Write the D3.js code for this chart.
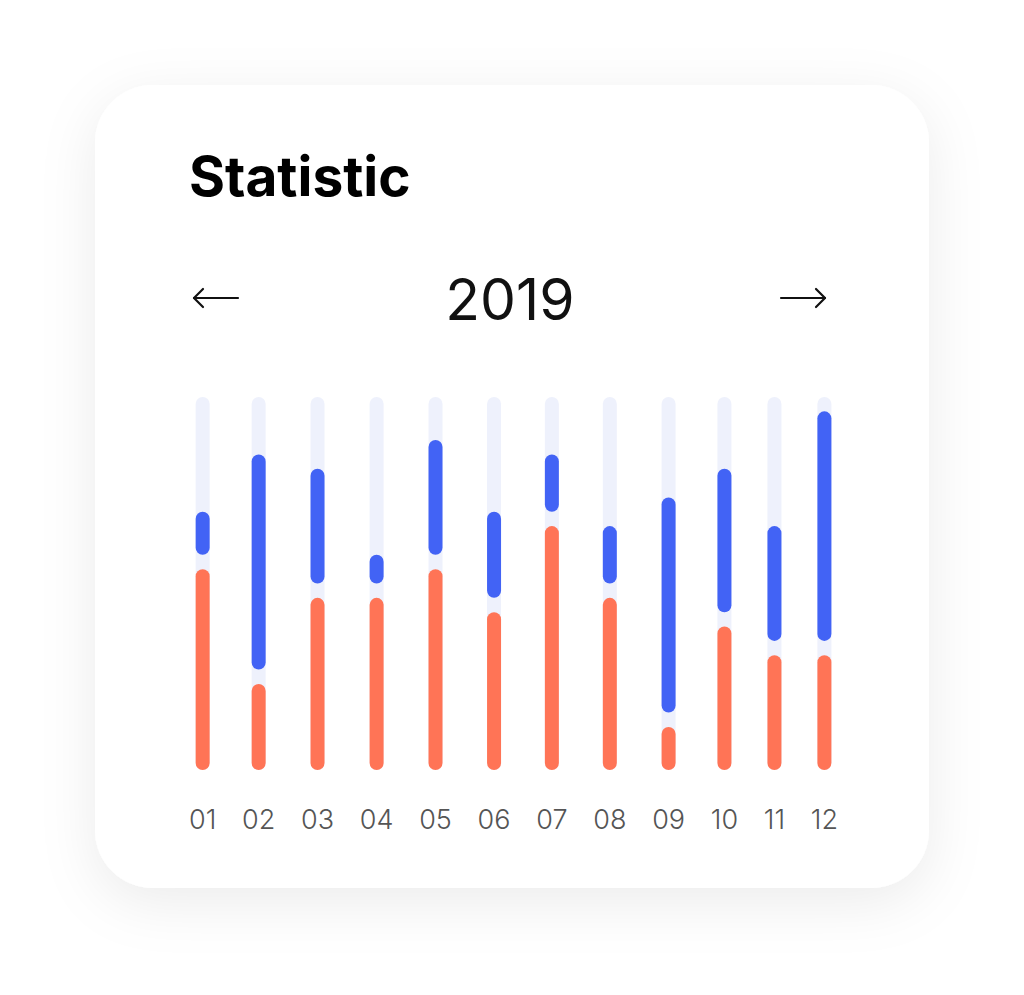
<!DOCTYPE html>
<html>
<head>
<meta charset="utf-8">
<script src="https://cdn.jsdelivr.net/npm/d3@7/dist/d3.min.js"></script>
<style>
  html, body { margin: 0; padding: 0; background: #ffffff; }
  svg { display: block; }
</style>
</head>
<body>
<svg id="chart" width="1024" height="995"></svg>
<script>
// ---- data ----
const months = ["01","02","03","04","05","06","07","08","09","10","11","12"];
const orangeValues = [14, 6, 12, 12, 14, 11, 17, 12, 3, 10, 8, 8];
const blueValues   = [3, 15, 8, 2, 8, 6, 4, 4, 15, 10, 8, 16];
const trackMax = 26;
const gapValue = 1;
const title = "Statistic";
const yearLabel = "2019";

// ---- layout ----
const W = 1024, H = 995;
const card = { x: 95, y: 85, w: 834, h: 803, r: 58 };
const plotTop = 397, plotBottom = 770;
const labelLeft = 189, labelRight = 838, labelY = 829;
const barW = 14;

const svg = d3.select("#chart");
const defs = svg.append("defs");
const f = defs.append("filter").attr("id", "shadow")
  .attr("x", "-30%").attr("y", "-30%").attr("width", "160%").attr("height", "160%");
f.append("feDropShadow").attr("dx", 0).attr("dy", 14).attr("stdDeviation", 28)
  .attr("flood-color", "#000").attr("flood-opacity", 0.08);

svg.append("rect").attr("x", card.x).attr("y", card.y)
  .attr("width", card.w).attr("height", card.h)
  .attr("rx", card.r).attr("ry", card.r)
  .attr("fill", "#fff").attr("filter", "url(#shadow)");

// title
svg.append("text").attr("x", 189).attr("y", 196)
  .attr("font-family", "Inter, 'Noto Sans', sans-serif")
  .attr("font-weight", 700).attr("font-size", 55)
  .attr("fill", "#000").text(title);

// year
svg.append("text").attr("x", 510).attr("y", 320)
  .attr("text-anchor", "middle")
  .attr("font-family", "Inter, 'Noto Sans', sans-serif")
  .attr("font-weight", 400).attr("font-size", 57)
  .attr("fill", "#111").text(yearLabel);

// arrows
function arrow(x1, x2, y, dir) {
  const g = svg.append("g").attr("fill", "none").attr("stroke", "#111")
    .attr("stroke-width", 2.2).attr("stroke-linecap", "round").attr("stroke-linejoin", "round");
  g.append("line").attr("x1", x1).attr("x2", x2).attr("y1", y).attr("y2", y);
  const tip = dir < 0 ? x1 : x2;
  const back = tip - dir * 9;
  g.append("path").attr("d", `M${back},${y - 9} L${tip},${y} L${back},${y + 9}`);
}
arrow(194, 238, 298, -1);
arrow(781, 825, 298, 1);

// x labels with space-between layout
const labelG = svg.append("g")
  .attr("font-family", "Inter, 'Noto Sans', sans-serif")
  .attr("font-size", 27).attr("font-weight", 300).attr("fill", "#555");
const labels = labelG.selectAll("text").data(months).join("text")
  .attr("y", labelY).attr("text-anchor", "middle").text(d => d);
const widths = [];
labels.each(function () { widths.push(this.getComputedTextLength()); });
const totalW = d3.sum(widths);
const gap = (labelRight - labelLeft - totalW) / (months.length - 1);
const centers = [];
let cx = labelLeft;
widths.forEach(w => { centers.push(cx + w / 2); cx += w + gap; });

const x = d3.scaleOrdinal().domain(months).range(centers);
const y = d3.scaleLinear().domain([0, trackMax]).range([plotBottom, plotTop]);
labels.attr("x", d => x(d));

const data = months.map((m, i) => ({ m, o: orangeValues[i], b: blueValues[i] }));

const bars = svg.append("g");
bars.selectAll("rect.track").data(data).join("rect").attr("class", "track")
  .attr("x", d => x(d.m) - barW / 2).attr("width", barW)
  .attr("y", y(trackMax)).attr("height", y(0) - y(trackMax))
  .attr("rx", barW / 2).attr("fill", "#eef1fc");

bars.selectAll("rect.orange").data(data).join("rect").attr("class", "orange")
  .attr("x", d => x(d.m) - barW / 2).attr("width", barW)
  .attr("y", d => y(d.o)).attr("height", d => y(0) - y(d.o))
  .attr("rx", barW / 2).attr("fill", "#ff7456");

bars.selectAll("rect.blue").data(data).join("rect").attr("class", "blue")
  .attr("x", d => x(d.m) - barW / 2).attr("width", barW)
  .attr("y", d => y(d.o + gapValue + d.b))
  .attr("height", d => y(d.o + gapValue) - y(d.o + gapValue + d.b))
  .attr("rx", barW / 2).attr("fill", "#4263f5");
</script>
</body>
</html>
